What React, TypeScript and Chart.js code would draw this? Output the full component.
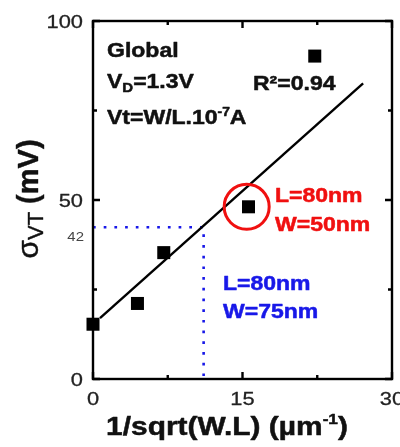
import React, { useEffect, useRef } from "react";
import { Chart, registerables } from "chart.js";
Chart.register(...registerables);

// ---- data ----
const pointX = [0, 4.46, 7.1, 15.6, 22.25];
const pointY = [15.3, 21.1, 35.3, 48.1, 90.2];
const fitX = [0.7, 27.1];
const fitY = [17.0, 82.6];
const guideX = [0, 11.1, 11.1];
const guideY = [42.4, 42.4, 0];
const circleX = [15.42];
const circleY = [48.1];
const xTicks = [0, 15, 30];
const xTickLabels = ["0", "15", "30"];
const xMinor = [7.5, 22.5];
const yTicks = [0, 50, 100];
const yTickLabels = ["0", "50", "100"];
const yMinor = [25, 75];
const markedValue = 42;
const markedLabel = "42";

const FONT = "'Liberation Sans', Arial, sans-serif";
const SX = 1.15;
const RED = "#f01010";
const BLUE = "#1818e8";

type Seg = { t: string; font: string; dy?: number };

function drawRich(
  ctx: CanvasRenderingContext2D,
  x: number,
  y: number,
  segs: Seg[],
  align: "left" | "center" | "right",
  sx: number,
  color: string,
  heavy = 0
) {
  ctx.save();
  ctx.fillStyle = color;
  ctx.strokeStyle = color;
  ctx.lineWidth = heavy;
  ctx.lineJoin = "round";
  ctx.textBaseline = "alphabetic";
  ctx.textAlign = "left";
  let w = 0;
  const widths = segs.map((s) => {
    ctx.font = s.font;
    const m = ctx.measureText(s.t).width;
    w += m;
    return m;
  });
  ctx.translate(x, y);
  ctx.scale(sx, 1);
  let cx = align === "left" ? 0 : align === "center" ? -w / 2 : -w;
  segs.forEach((s, i) => {
    ctx.font = s.font;
    ctx.fillText(s.t, cx, s.dy || 0);
    if (heavy > 0) ctx.strokeText(s.t, cx, s.dy || 0);
    cx += widths[i];
  });
  ctx.restore();
}

const decorPlugin = {
  id: "decor",
  afterDraw(chart: any) {
    const ctx: CanvasRenderingContext2D = chart.ctx;
    const { left, right, top, bottom } = chart.chartArea;
    const xs = chart.scales.x;
    const ys = chart.scales.y;
    ctx.save();
    ctx.strokeStyle = "#000";
    ctx.lineWidth = 2.4;
    ctx.strokeRect(left, top, right - left, bottom - top);
    ctx.beginPath();
    const tickX = (v: number, len: number) => {
      const p = xs.getPixelForValue(v);
      ctx.moveTo(p, bottom);
      ctx.lineTo(p, bottom - len);
      ctx.moveTo(p, top);
      ctx.lineTo(p, top + len);
    };
    const tickY = (v: number, len: number) => {
      const p = ys.getPixelForValue(v);
      ctx.moveTo(left, p);
      ctx.lineTo(left + len, p);
      ctx.moveTo(right, p);
      ctx.lineTo(right - len, p);
    };
    xTicks.forEach((v) => tickX(v, 7));
    xMinor.forEach((v) => tickX(v, 4));
    yTicks.forEach((v) => tickY(v, 7));
    yMinor.forEach((v) => tickY(v, 4));
    ctx.stroke();
    ctx.restore();

    const tickFont = `19px ${FONT}`;
    yTicks.forEach((v, i) => {
      drawRich(ctx, left - 10, ys.getPixelForValue(v) + 6.8, [{ t: yTickLabels[i], font: tickFont }], "right", SX, "#222", 0.3);
    });
    xTicks.forEach((v, i) => {
      drawRich(ctx, xs.getPixelForValue(v), bottom + 25.5, [{ t: xTickLabels[i], font: tickFont }], "center", SX, "#222", 0.3);
    });
    drawRich(ctx, left - 9, ys.getPixelForValue(markedValue) + 12.8, [{ t: markedLabel, font: `13px ${FONT}` }], "right", SX, "#444");

    // axis titles
    const xt = `bold 26px ${FONT}`;
    drawRich(
      ctx,
      227,
      bottom + 56,
      [
        { t: "1/sqrt(W.L) (µm", font: xt },
        { t: "-1", font: `bold 15px ${FONT}`, dy: -11 },
        { t: ")", font: xt },
      ],
      "center",
      SX,
      "#111",
      0.5
    );
    ctx.save();
    ctx.translate(38, (top + bottom) / 2 - 1);
    ctx.rotate(-Math.PI / 2);
    drawRich(
      ctx,
      0,
      0,
      [
        { t: "σ", font: `30px ${FONT}` },
        { t: "VT", font: `22px ${FONT}`, dy: 5 },
        { t: " (mV)", font: `bold 29px ${FONT}` },
      ],
      "center",
      1,
      "#111",
      0.4
    );
    ctx.restore();

    // annotations
    const b20 = `bold 20px ${FONT}`;
    const ax = left + 14;
    const hv = 0.5;
    drawRich(ctx, ax, top + 36, [{ t: "Global", font: b20 }], "left", SX, "#111", hv);
    drawRich(
      ctx,
      ax,
      top + 67,
      [
        { t: "V", font: b20 },
        { t: "D", font: `bold 13px ${FONT}`, dy: 4 },
        { t: "=1.3V", font: b20 },
      ],
      "left",
      SX,
      "#111",
      hv
    );
    drawRich(
      ctx,
      ax,
      top + 103,
      [
        { t: "Vt=W/L.10", font: b20 },
        { t: "-7", font: `bold 12px ${FONT}`, dy: -8 },
        { t: "A", font: b20 },
      ],
      "left",
      SX,
      "#111",
      hv
    );
    drawRich(ctx, left + 160, top + 69, [{ t: "R²=0.94", font: b20 }], "left", SX, "#111", hv);
    drawRich(ctx, left + 182, top + 181, [{ t: "L=80nm", font: b20 }], "left", SX, RED, hv);
    drawRich(ctx, left + 182, top + 210, [{ t: "W=50nm", font: b20 }], "left", SX, RED, hv);
    drawRich(ctx, left + 130, top + 269, [{ t: "L=80nm", font: b20 }], "left", SX, BLUE, hv);
    drawRich(ctx, left + 130, top + 297, [{ t: "W=75nm", font: b20 }], "left", SX, BLUE, hv);
  },
};

export default function App() {
  const ref = useRef<HTMLCanvasElement | null>(null);
  useEffect(() => {
    document.body.style.margin = "0";
    const canvas = ref.current;
    if (!canvas) return;
    const chart = new Chart(canvas, {
      type: "scatter",
      data: {
        datasets: [
          {
            type: "line",
            data: fitX.map((x, i) => ({ x, y: fitY[i] })),
            borderColor: "#000",
            borderWidth: 2.4,
            pointRadius: 0,
            fill: false,
            order: 2,
            clip: false,
          } as any,
          {
            type: "line",
            data: guideX.map((x, i) => ({ x, y: guideY[i] })),
            borderColor: BLUE,
            borderWidth: 2.6,
            borderDash: [2.7, 8],
            pointRadius: 0,
            fill: false,
            order: 3,
            clip: false,
          } as any,
          {
            data: pointX.map((x, i) => ({ x, y: pointY[i] })),
            pointStyle: "rect",
            pointRadius: 9.2,
            backgroundColor: "#000",
            borderColor: "#000",
            borderWidth: 0,
            order: 1,
            clip: false,
          } as any,
          {
            data: circleX.map((x, i) => ({ x, y: circleY[i] })),
            pointStyle: "circle",
            pointRadius: 22.5,
            backgroundColor: "rgba(0,0,0,0)",
            borderColor: RED,
            borderWidth: 3,
            order: 0,
            clip: false,
          } as any,
        ],
      },
      options: {
        animation: false,
        responsive: false,
        maintainAspectRatio: false,
        events: [],
        layout: { autoPadding: false, padding: { left: 93, top: 21, right: 8, bottom: 68 } },
        plugins: { legend: { display: false }, tooltip: { enabled: false } },
        scales: {
          x: { type: "linear", min: 0, max: 30, display: false },
          y: { type: "linear", min: 0, max: 100, display: false },
        },
      },
      plugins: [decorPlugin],
    });
    return () => chart.destroy();
  }, []);
  return (
    <div style={{ width: 400, height: 447, background: "#fff" }}>
      <canvas ref={ref} width={400} height={447} style={{ display: "block" }} />
    </div>
  );
}
